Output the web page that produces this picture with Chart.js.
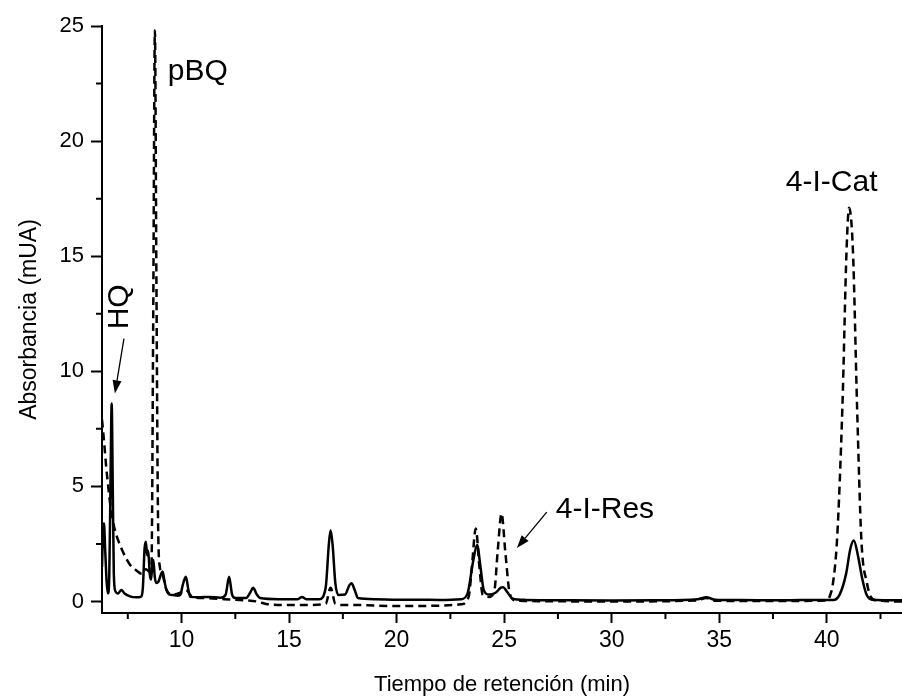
<!DOCTYPE html>
<html lang="es">
<head>
<meta charset="utf-8">
<title>Cromatograma</title>
<script src="https://cdn.jsdelivr.net/npm/chart.js@4.4.1/dist/chart.umd.min.js"></script>
<style>
  html, body { margin: 0; padding: 0; background: #fff; }
  #wrap { width: 902px; height: 698px; }
</style>
</head>
<body>
<div id="wrap"><canvas id="chrom" width="902" height="698"></canvas></div>
<script>
// Muestra (línea continua)
const sampleTime = [
  6.30, 6.34, 6.39, 6.45, 6.52, 6.58, 6.64, 6.70, 6.75, 6.80, 6.85, 6.92, 7.05, 7.20, 7.35, 7.60, 7.90, 8.10,
  8.20, 8.28, 8.34, 8.40, 8.45, 8.52, 8.58, 8.64, 8.69, 8.75, 8.82, 8.92, 9.05, 9.12, 9.20, 9.30, 9.45, 9.60,
  9.80, 9.95, 10.05, 10.20, 10.30, 10.40, 10.80, 11.30, 11.80, 12.05, 12.21, 12.35, 12.50, 13.00, 13.20, 13.33,
  13.50, 13.65, 14.50, 15.40, 15.60, 15.80, 16.40, 16.70, 16.85, 16.93, 17.02, 17.15, 17.30, 17.60, 17.80, 17.90,
  18.05, 18.20, 19.00, 20.00, 21.00, 22.00, 23.00, 23.30, 23.55, 23.74, 23.90, 24.05, 24.30, 24.60, 24.85, 24.95,
  25.15, 25.40, 26.00, 28.00, 30.00, 32.00, 34.00, 34.40, 34.80, 36.00, 38.00, 39.50, 40.30, 40.60, 40.90, 41.10,
  41.26, 41.45, 41.65, 41.85, 42.10, 43.50
];
const sampleAbs = [
  1.5, 2.8, 3.4, 2.2, 0.8, 0.35, 1.2, 5.5, 8.6, 5.0, 1.2, 0.45, 0.35, 0.5, 0.35, 0.22, 0.18, 0.2,
  0.6, 2.3, 2.6, 2.0, 2.2, 1.2, 0.95, 1.6, 1.8, 1.1, 0.8, 0.85, 1.2, 1.3, 0.9, 0.5, 0.3, 0.28,
  0.25, 0.3, 0.7, 1.07, 0.6, 0.2, 0.18, 0.2, 0.16, 0.3, 1.07, 0.3, 0.15, 0.15, 0.4, 0.6,
  0.3, 0.15, 0.1, 0.1, 0.2, 0.1, 0.1, 0.6, 2.5, 3.1, 2.5, 0.8, 0.28, 0.3, 0.7, 0.79,
  0.5, 0.15, 0.1, 0.08, 0.08, 0.07, 0.1, 0.35, 1.7, 2.45, 1.5, 0.5, 0.3, 0.38, 0.6, 0.62,
  0.4, 0.12, 0.07, 0.05, 0.04, 0.05, 0.1, 0.18, 0.08, 0.06, 0.05, 0.07, 0.06, 0.3, 1.2, 2.3,
  2.65, 2.0, 1.0, 0.3, 0.08, 0.05
];

// Patrones (línea discontinua)
const standardTime = [
  6.30, 6.40, 6.50, 6.60, 6.70, 6.85, 7.00, 7.30, 7.60, 7.90, 8.15, 8.35, 8.50, 8.60, 8.68, 8.76, 8.83, 8.90,
  8.99, 9.10, 9.30, 9.60, 10.00, 10.20, 10.50, 11.00, 12.00, 13.00, 13.50, 14.00, 15.00, 16.00, 16.70, 16.93,
  17.15, 17.50, 18.00, 19.00, 20.00, 21.00, 22.00, 23.00, 23.35, 23.50, 23.68, 23.85, 24.00, 24.30, 24.55, 24.70,
  24.88, 25.05, 25.25, 25.50, 26.00, 30.00, 34.00, 34.40, 34.80, 38.00, 40.00, 40.15, 40.29, 40.48, 40.73, 40.92,
  41.04, 41.22, 41.41, 41.61, 41.87, 42.05, 42.30, 43.50
];
const standardAbs = [
  7.9, 6.9, 5.8, 4.9, 4.1, 3.3, 2.8, 2.1, 1.6, 1.35, 1.2, 1.4, 1.3, 1.5, 12.0, 24.8, 14.0, 4.0,
  1.5, 1.2, 0.5, 0.3, 0.4, 0.5, 0.2, 0.15, 0.1, 0.05, 0.0, -0.12, -0.15, -0.15, -0.1, 0.6,
  -0.1, -0.15, -0.15, -0.18, -0.2, -0.2, -0.18, -0.12, 0.2, 1.5, 3.17, 1.5, 0.3, 0.2, 0.5, 2.2,
  3.82, 2.2, 0.4, 0.05, 0.02, 0.0, 0.05, 0.15, 0.03, 0.02, 0.05, 0.25, 0.8, 2.7, 8.5, 15.2,
  17.1, 15.2, 8.5, 2.7, 0.8, 0.2, 0.05, 0.0
];

// Ejes
const xTicks = [10, 15, 20, 25, 30, 35, 40];
const yTicks = [0, 5, 10, 15, 20, 25];
const minorStep = 2.5;

// Rótulos de picos y flechas (en unidades de los ejes)
const peakNotes = [
  { text: 'pBQ', x: 9.36, y: 23.0, align: 'left' },
  { text: 'HQ', x: 7.13, y: 12.8, align: 'center', rotate: true },
  { text: '4-I-Cat', x: 40.23, y: 18.2, align: 'center' },
  { text: '4-I-Res', x: 27.4, y: 4.0, align: 'left' }
];
const peakArrows = [
  { from: [7.32, 11.42], to: [6.90, 9.04] },
  { from: [26.98, 3.88], to: [25.59, 2.32] }
];

const FONT = "'Liberation Sans', Arial, sans-serif";

const toPoints = (xs, ys) => xs.map((x, i) => ({ x, y: ys[i] }));

// minor ticks between the majors, drawn outward like the majors
const minorTicks = {
  id: 'minorTicks',
  afterDraw(chart) {
    const { ctx, chartArea, scales: { x, y } } = chart;
    ctx.save();
    ctx.strokeStyle = '#000';
    ctx.lineWidth = 2;
    ctx.beginPath();
    for (let v = xTicks[0] - minorStep; v <= x.max; v += 5) {
      if (v < x.min) continue;
      const px = x.getPixelForValue(v);
      ctx.moveTo(px, chartArea.bottom);
      ctx.lineTo(px, chartArea.bottom + 6);
    }
    for (let v = yTicks[0] + minorStep; v < y.max; v += 5) {
      const py = y.getPixelForValue(v);
      ctx.moveTo(chartArea.left, py);
      ctx.lineTo(chartArea.left - 6, py);
    }
    ctx.stroke();
    ctx.restore();
  }
};

const peakAnnotations = {
  id: 'peakAnnotations',
  afterDraw(chart) {
    const { ctx, scales: { x, y } } = chart;
    ctx.save();
    ctx.fillStyle = '#000';
    ctx.strokeStyle = '#000';
    ctx.font = '30px ' + FONT;
    ctx.textBaseline = 'middle';
    peakNotes.forEach(n => {
      const px = x.getPixelForValue(n.x);
      const py = y.getPixelForValue(n.y);
      ctx.save();
      ctx.translate(px, py);
      if (n.rotate) ctx.rotate(-Math.PI / 2);
      ctx.textAlign = n.align;
      ctx.fillText(n.text, 0, 0);
      ctx.restore();
    });

    ctx.lineWidth = 1.3;
    peakArrows.forEach(a => {
      const x0 = x.getPixelForValue(a.from[0]), y0 = y.getPixelForValue(a.from[1]);
      const x1 = x.getPixelForValue(a.to[0]), y1 = y.getPixelForValue(a.to[1]);
      const ang = Math.atan2(y1 - y0, x1 - x0);
      const head = 13, half = 4.5;
      const bx = x1 - head * Math.cos(ang), by = y1 - head * Math.sin(ang);
      ctx.beginPath();
      ctx.moveTo(x0, y0);
      ctx.lineTo(bx, by);
      ctx.stroke();
      ctx.beginPath();
      ctx.moveTo(x1, y1);
      ctx.lineTo(bx + half * Math.sin(ang), by - half * Math.cos(ang));
      ctx.lineTo(bx - half * Math.sin(ang), by + half * Math.cos(ang));
      ctx.closePath();
      ctx.fill();
    });
    ctx.restore();
  }
};

new Chart(document.getElementById('chrom'), {
  type: 'line',
  data: {
    datasets: [
      {
        label: 'Muestra',
        data: toPoints(sampleTime, sampleAbs),
        borderColor: '#000',
        borderWidth: 2.5,
        pointRadius: 0,
        cubicInterpolationMode: 'monotone',
        fill: false
      },
      {
        label: 'Patrones',
        data: toPoints(standardTime, standardAbs),
        borderColor: '#000',
        borderWidth: 2.5,
        borderDash: [8, 5],
        pointRadius: 0,
        cubicInterpolationMode: 'monotone',
        fill: false
      }
    ]
  },
  options: {
    responsive: false,
    animation: false,
    layout: { padding: { top: 26, right: 0, bottom: 0, left: 0 } },
    plugins: { legend: { display: false }, tooltip: { enabled: false } },
    scales: {
      x: {
        type: 'linear',
        min: 6.3,
        max: 43.5,
        afterBuildTicks: s => { s.ticks = xTicks.map(v => ({ value: v })); },
        afterFit: s => { s.height = 85; },
        border: { color: '#000', width: 2 },
        grid: { drawOnChartArea: false, drawTicks: true, tickLength: 10, tickWidth: 2, tickColor: '#000' },
        ticks: { color: '#000', padding: 4, maxRotation: 0, font: { family: FONT, size: 23 } },
        title: {
          display: true,
          text: 'Tiempo de retención (min)',
          color: '#000',
          padding: { top: 0, bottom: 0 },
          font: { family: FONT, size: 22 }
        }
      },
      y: {
        type: 'linear',
        min: -0.5,
        max: 25,
        afterBuildTicks: s => { s.ticks = yTicks.map(v => ({ value: v })); },
        afterFit: s => { s.width = 102; },
        border: { color: '#000', width: 2 },
        grid: { drawOnChartArea: false, drawTicks: true, tickLength: 11, tickWidth: 2, tickColor: '#000' },
        ticks: { color: '#000', padding: 7, font: { family: FONT, size: 22 } },
        title: {
          display: true,
          text: 'Absorbancia (mUA)',
          color: '#000',
          padding: { top: 16, bottom: 0 },
          font: { family: FONT, size: 23 }
        }
      }
    }
  },
  plugins: [minorTicks, peakAnnotations]
});
</script>
</body>
</html>
